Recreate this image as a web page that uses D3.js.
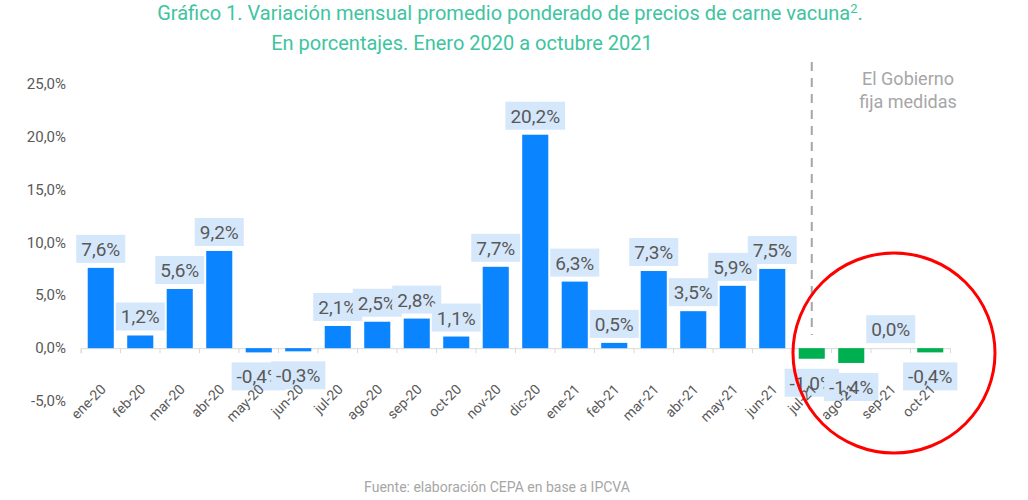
<!DOCTYPE html>
<html><head><meta charset="utf-8">
<script src="https://cdn.jsdelivr.net/npm/d3@7"></script>
<style>body{margin:0;background:#fff;font-family:Roboto,"Noto Sans",sans-serif;}</style>
</head><body><div id="chart"></div>
<script>
const months = ["ene-20","feb-20","mar-20","abr-20","may-20","jun-20","jul-20","ago-20","sep-20","oct-20","nov-20","dic-20",
  "ene-21","feb-21","mar-21","abr-21","may-21","jun-21","jul-21","ago-21","sep-21","oct-21"];
const values = [7.6,1.2,5.6,9.2,-0.4,-0.3,2.1,2.5,2.8,1.1,7.7,20.2,6.3,0.5,7.3,3.5,5.9,7.5,-1.0,-1.4,0.0,-0.4];
const yTicks = [-5,0,5,10,15,20,25];
const fmt = v => v.toFixed(1).replace(".", ",") + "%";

const W = 1028, H = 500;
const svg = d3.select("#chart").append("svg").attr("width", W).attr("height", H);

const x = d3.scaleBand().domain(months).range([81, 950]).paddingInner(0.34).paddingOuter(0.17);
const y = d3.scaleLinear().domain([-5, 25]).range([401, 84]);

// title
const title = svg.append("text").attr("text-anchor", "middle").attr("fill", "#3ec49f")
  .attr("font-size", 20);
title.append("tspan").attr("x", 510).attr("y", 20).text("Gráfico 1. Variación mensual promedio ponderado de precios de carne vacuna");
title.append("tspan").attr("font-size", 13).attr("dy", -7).text("2");
title.append("tspan").attr("dy", 7).text(".");
title.append("tspan").attr("x", 462).attr("y", 50).text("En porcentajes. Enero 2020 a octubre 2021");

// y axis labels
svg.selectAll(".yt").data(yTicks).enter().append("text")
  .attr("x", 66).attr("y", d => y(d) + 5).attr("text-anchor", "end")
  .attr("font-size", 15).attr("fill", "#595959").text(d => fmt(d));

// x axis line and ticks
const xAxis = svg.append("g").attr("transform", `translate(0,${y(0)})`)
  .call(d3.axisBottom(x).tickSize(5).tickFormat(""));
xAxis.select(".domain").attr("stroke", "#d9d9d9");
xAxis.selectAll(".tick line").attr("stroke", "#d9d9d9")
  .attr("transform", `translate(${-x.step() / 2},0)`);

// bars
svg.selectAll(".bar").data(values).enter().append("rect")
  .attr("x", (d, i) => x(months[i]))
  .attr("width", x.bandwidth())
  .attr("y", d => y(Math.max(0, d)))
  .attr("height", d => Math.abs(y(d) - y(0)))
  .attr("fill", (d, i) => i >= 18 ? "#00b050" : "#0a84ff");

// dashed line
const dx = x("jul-21") + x.bandwidth() / 2;
svg.append("line").attr("x1", dx).attr("x2", dx).attr("y1", 62).attr("y2", 335)
  .attr("stroke", "#a6a6a6").attr("stroke-width", 2).attr("stroke-dasharray", "9,7");
svg.append("text").attr("x", 908).attr("y", 85).attr("text-anchor", "middle")
  .attr("font-size", 18).attr("fill", "#a6a6a6")
  .selectAll("tspan").data(["El Gobierno", "fija medidas"]).enter().append("tspan")
  .attr("x", 908).attr("dy", (d, i) => i ? 23 : 0).text(d => d);

// labels
values.forEach((v, i) => {
  const cx = x(months[i]) + x.bandwidth() / 2;
  const cy = v >= 0 ? y(v) - 19 : y(v) + 24;
  const g = svg.append("g");
  const t = g.append("text").attr("x", cx).attr("y", cy + 7).attr("text-anchor", "middle")
    .attr("font-size", 19).attr("fill", "#595959").text(fmt(v));
  const w = t.node().getComputedTextLength() + 10;
  g.insert("rect", "text").attr("x", cx - w / 2).attr("y", cy - 14).attr("width", w).attr("height", 28)
    .attr("fill", "#d5e7fb");
});

// category labels
svg.selectAll(".xl").data(months).enter().append("text")
  .attr("transform", d => `translate(${x(d) + x.bandwidth() / 2 + 6},${y(0) + 42}) rotate(-45)`)
  .attr("text-anchor", "end").attr("font-size", 14).attr("fill", "#595959").text(d => d);

// red circle
svg.append("ellipse").attr("cx", 894).attr("cy", 353).attr("rx", 101).attr("ry", 100)
  .attr("fill", "none").attr("stroke", "#ff0000").attr("stroke-width", 3);

svg.append("text").attr("x", 497).attr("y", 492).attr("text-anchor", "middle")
  .attr("font-size", 14).attr("fill", "#a6a6a6").text("Fuente: elaboración CEPA en base a IPCVA");
</script></body></html>
